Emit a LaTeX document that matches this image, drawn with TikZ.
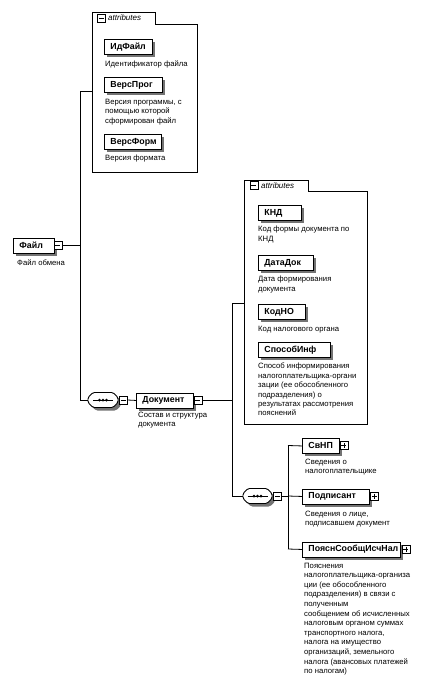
\documentclass[tikz,border=0pt]{standalone}
\usepackage{fontspec}
\setmainfont{Liberation Sans}
\usetikzlibrary{shadows}
\begin{document}
\begin{tikzpicture}[x=1pt,y=-1pt,
 conn/.style={line width=0.8pt},
 frameline/.style={line width=0.8pt},
 shd/.style={general shadow={fill=black!55, shadow xshift=3pt, shadow yshift=-3pt}},
 elbox/.style={draw, line width=0.9pt, fill=white, anchor=north west, inner xsep=6pt, inner ysep=0pt,
   minimum height=15pt, text width=#1, align=left, font=\fontsize{8.8}{10}\selectfont\bfseries, shd},
 desc/.style={anchor=north west, inner sep=0pt, font=\fontsize{7.7}{9.4}\selectfont, align=left},
 tabtext/.style={anchor=west, inner sep=0pt, font=\fontsize{8}{9}\selectfont\itshape},
 minusbox/.style={draw, line width=0.6pt, fill=white, minimum size=8pt, inner sep=0pt, anchor=west,
   path picture={\draw[line width=0.6pt] ([xshift=1.5pt]path picture bounding box.west) -- ([xshift=-1.5pt]path picture bounding box.east);}},
 plusbox/.style={draw, line width=0.6pt, fill=white, minimum size=8pt, inner sep=0pt, anchor=west,
   path picture={\draw[line width=0.6pt] ([xshift=1.5pt]path picture bounding box.west) -- ([xshift=-1.5pt]path picture bounding box.east);
     \draw[line width=0.6pt] ([yshift=-1.5pt]path picture bounding box.north) -- ([yshift=1.5pt]path picture bounding box.south);}},
 compnode/.style={inner sep=0pt, minimum width=30pt, minimum height=15pt},
 compshape/.style={draw, line width=0.9pt, fill=white, rounded corners=1.5pt, shd},
 dotc/.style={fill=black, circle, inner sep=0pt, minimum size=3pt}
]
\useasboundingbox (0,0) rectangle (433,680);

% ---------- attributes frame 1 ----------
\draw[frameline] (92,12) -- (155,12) -- (155,24) -- (197,24) -- (197,172) -- (92,172) -- cycle;
\node[minusbox] (tabm1) at (97,18) {};
\node[tabtext] (tabt1) at (108,18) {attributes};
\coordinate (fr1w) at (92,91);

\node[elbox=36pt] (idf) at (104,39) {ИдФайл};
\node[desc] (idfd) at (105,60.5) {Идентификатор файла};
\node[elbox=46pt] (vprog) at (104,77) {ВерсПрог};
\node[desc] (vprogd) at (105,99) {Версия программы, с\\помощью которой\\сформирован файл};
\node[elbox=45pt] (vform) at (104,134) {ВерсФорм};
\node[desc] (vformd) at (105,154.5) {Версия формата};

% ---------- root ----------
\node[elbox=29pt] (file) at (13,237.5) {Файл};
\node[minusbox] (filem) at (53.5,245) {};
\node[desc] (filed) at (17,259.5) {Файл обмена};

\coordinate (j1top) at (80,91);
\coordinate (j1file) at (80,245);
\coordinate (j1bot) at (80,400);
\draw[conn] (filem.east) -- (j1file);
\draw[conn] (j1top) -- (j1bot);
\draw[conn] (j1top) -- (fr1w);

% ---------- sequence 1 ----------
\node[compnode] (comp1) at (103,400) {};
\path[compshape] ([xshift=-15pt,yshift=2.5pt]comp1.center) -- ([xshift=-10pt,yshift=7.5pt]comp1.center)
  -- ([xshift=10pt,yshift=7.5pt]comp1.center) -- ([xshift=15pt,yshift=2.5pt]comp1.center)
  -- ([xshift=15pt,yshift=-2.5pt]comp1.center) -- ([xshift=10pt,yshift=-7.5pt]comp1.center)
  -- ([xshift=-10pt,yshift=-7.5pt]comp1.center) -- ([xshift=-15pt,yshift=-2.5pt]comp1.center) -- cycle;
\draw[line width=0.8pt] ([xshift=-10pt]comp1.center) -- ([xshift=10pt]comp1.center);
\node[dotc] (d11) at ([xshift=-3.5pt]comp1.center) {};
\node[dotc] (d12) at (comp1.center) {};
\node[dotc] (d13) at ([xshift=3.5pt]comp1.center) {};
\node[minusbox] (c1m) at (119,400) {};
\draw[conn] (j1bot) -- (comp1.west);

\node[elbox=45pt] (doc) at (136,392.5) {Документ};
\node[minusbox] (docm) at (193.5,400) {};
\node[desc] (docd) at (138,412) {Состав и структура\\документа};
\draw[conn] (c1m.east) -- (doc.west);

% ---------- attributes frame 2 ----------
\draw[frameline] (244,180) -- (308,180) -- (308,191) -- (367,191) -- (367,424) -- (244,424) -- cycle;
\node[minusbox] (tabm2) at (249.5,185.5) {};
\node[tabtext] (tabt2) at (261,185.5) {attributes};
\coordinate (fr2w) at (244,303);

\node[elbox=31pt] (knd) at (258,205) {КНД};
\node[desc] (kndd) at (258,226) {Код формы документа по\\КНД};
\node[elbox=43pt] (datadok) at (258,255) {ДатаДок};
\node[desc] (datadokd) at (258,276) {Дата формирования\\документа};
\node[elbox=35pt] (kodno) at (258,304) {КодНО};
\node[desc] (kodnod) at (258,326) {Код налогового органа};
\node[elbox=60pt] (sposob) at (258,342) {СпособИнф};
\node[desc] (sposobd) at (258,363) {Способ информирования\\налогоплательщика-органи\\зации (ее обособленного\\подразделения) о\\результатах рассмотрения\\пояснений};

\coordinate (j2top) at (232,303);
\coordinate (j2doc) at (232,400);
\coordinate (j2bot) at (232,496);
\draw[conn] (docm.east) -- (j2doc);
\draw[conn] (j2top) -- (j2bot);
\draw[conn] (j2top) -- (fr2w);

% ---------- sequence 2 ----------
\node[compnode, minimum width=29pt] (comp2) at (257.5,496) {};
\path[compshape] ([xshift=-14.5pt,yshift=2.5pt]comp2.center) -- ([xshift=-9.5pt,yshift=7.5pt]comp2.center)
  -- ([xshift=9.5pt,yshift=7.5pt]comp2.center) -- ([xshift=14.5pt,yshift=2.5pt]comp2.center)
  -- ([xshift=14.5pt,yshift=-2.5pt]comp2.center) -- ([xshift=9.5pt,yshift=-7.5pt]comp2.center)
  -- ([xshift=-9.5pt,yshift=-7.5pt]comp2.center) -- ([xshift=-14.5pt,yshift=-2.5pt]comp2.center) -- cycle;
\draw[line width=0.8pt] ([xshift=-10pt]comp2.center) -- ([xshift=10pt]comp2.center);
\node[dotc] (d21) at ([xshift=-3.5pt]comp2.center) {};
\node[dotc] (d22) at (comp2.center) {};
\node[dotc] (d23) at ([xshift=3.5pt]comp2.center) {};
\node[minusbox] (c2m) at (273,496) {};
\draw[conn] (j2bot) -- (comp2.west);

\coordinate (j3top) at (288,445.5);
\coordinate (j3mid) at (288,496);
\coordinate (j3bot) at (288,549);
\draw[conn] (c2m.east) -- (j3mid);
\draw[conn] (j3top) -- (j3bot);

\node[elbox=25pt] (svnp) at (302,438) {СвНП};
\node[plusbox] (svnpp) at (339.5,445.5) {};
\node[desc] (svnpd) at (305,459) {Сведения о\\налогоплательщике};
\node[elbox=55pt] (podp) at (302,488.5) {Подписант};
\node[plusbox] (podpp) at (370,496) {};
\node[desc] (podpd) at (305,510.5) {Сведения о лице,\\подписавшем документ};
\node[elbox=86pt] (poyasn) at (302,541.5) {ПояснСообщИсчНал};
\node[plusbox] (poyasnp) at (401.5,549) {};
\node[desc, font=\fontsize{7.7}{9.6}\selectfont] (poyasnd) at (304,562.5) {Пояснения\\налогоплательщика-организа\\ции (ее обособленного\\подразделения) в связи с\\полученным\\сообщением об исчисленных\\налоговым органом суммах\\транспортного налога,\\налога на имущество\\организаций, земельного\\налога (авансовых платежей\\по налогам)};

\draw[conn] (j3top) -- (svnp.west);
\draw[conn] (j3mid) -- (podp.west);
\draw[conn] (j3bot) -- (poyasn.west);
\end{tikzpicture}
\end{document}
